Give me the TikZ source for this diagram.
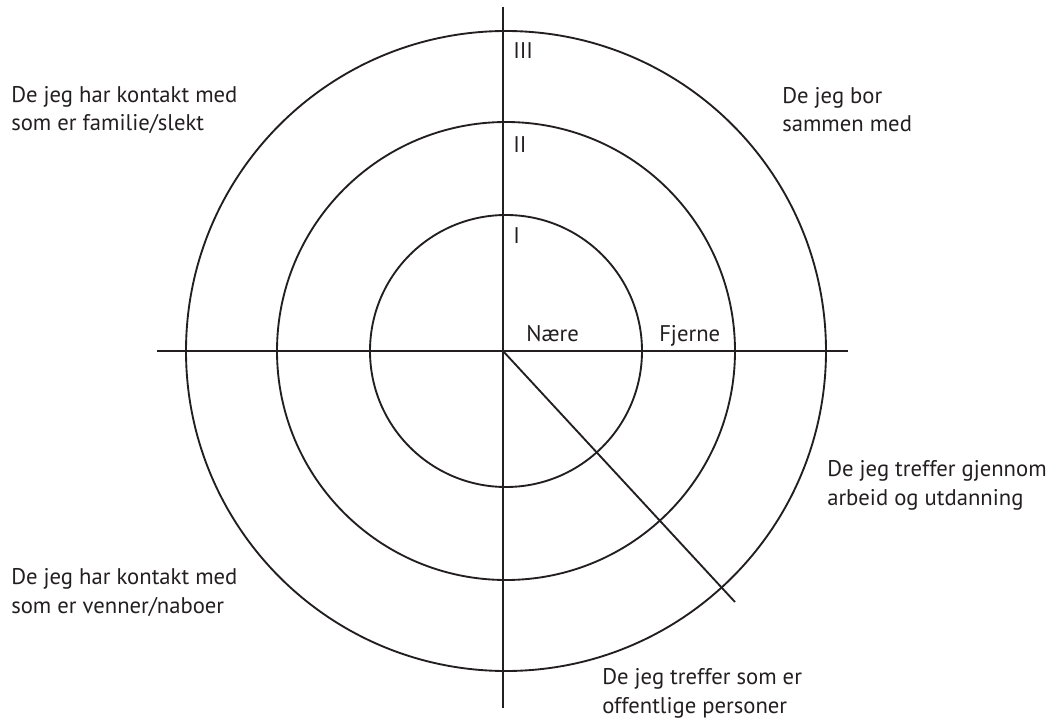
\documentclass[tikz,border=0pt]{standalone}
\usepackage{fontspec}
\setmainfont{PT Sans}
\definecolor{linecolor}{RGB}{35, 31, 32}

\begin{document}
\begin{tikzpicture}[x=0.75pt, y=-0.75pt]

    \useasboundingbox (0,0) rectangle (1061,724);

    \tikzset{
        ring/.style={line width=1.4pt, linecolor},
        axis/.style={line width=1.4pt, linecolor},
        label/.style={anchor=base west, inner sep=0pt, align=left, text=linecolor,
                      font=\fontsize{17}{21.5}\selectfont},
        level/.style={anchor=base west, inner sep=0pt, text=linecolor,
                      font=\fontsize{17}{21.5}\selectfont}
    }

    % ==========================================
    % --- Rings and axes ---
    % ==========================================
    \coordinate (mid) at (506, 351);
    \coordinate (origin) at (503, 351);

    % Three circles round the centre
    \foreach \r in {136, 229, 320} {
        \draw[ring] (mid) circle (\r);
    }

    % Cross lines
    \coordinate (top) at (503, 7);
    \coordinate (bottom) at (503, 708);
    \coordinate (left) at (157, 351);
    \coordinate (right) at (848, 351);
    \coordinate (diagend) at (735, 602);
    \draw[axis] (top) -- (bottom);
    \draw[axis] (left) -- (right);
    \draw[axis] (origin) -- (diagend);

    % ==========================================
    % --- Level numbers and distance labels ---
    % ==========================================
    \node[level] (lvlthree) at (513, 59) {III};
    \node[level] (lvltwo) at (513, 152) {II};
    \node[level] (lvlone) at (513, 243) {I};
    \node[level] (near) at (526, 341) {Nære};
    \node[level] (far) at (659, 341) {Fjerne};

    % ==========================================
    % --- Group labels (anchored at the last line) ---
    % ==========================================
    \node[label] (family) at (11, 131) {De jeg har kontakt med\\som er familie/slekt};
    \node[label] (home) at (782, 132) {De jeg bor\\sammen med};
    \node[label] (work) at (827, 505) {De jeg treffer gjennom\\arbeid og utdanning};
    \node[label] (friends) at (11, 613) {De jeg har kontakt med\\som er venner/naboer};
    \node[label] (public) at (602, 713) {De jeg treffer som er\\offentlige personer};

\end{tikzpicture}
\end{document}
